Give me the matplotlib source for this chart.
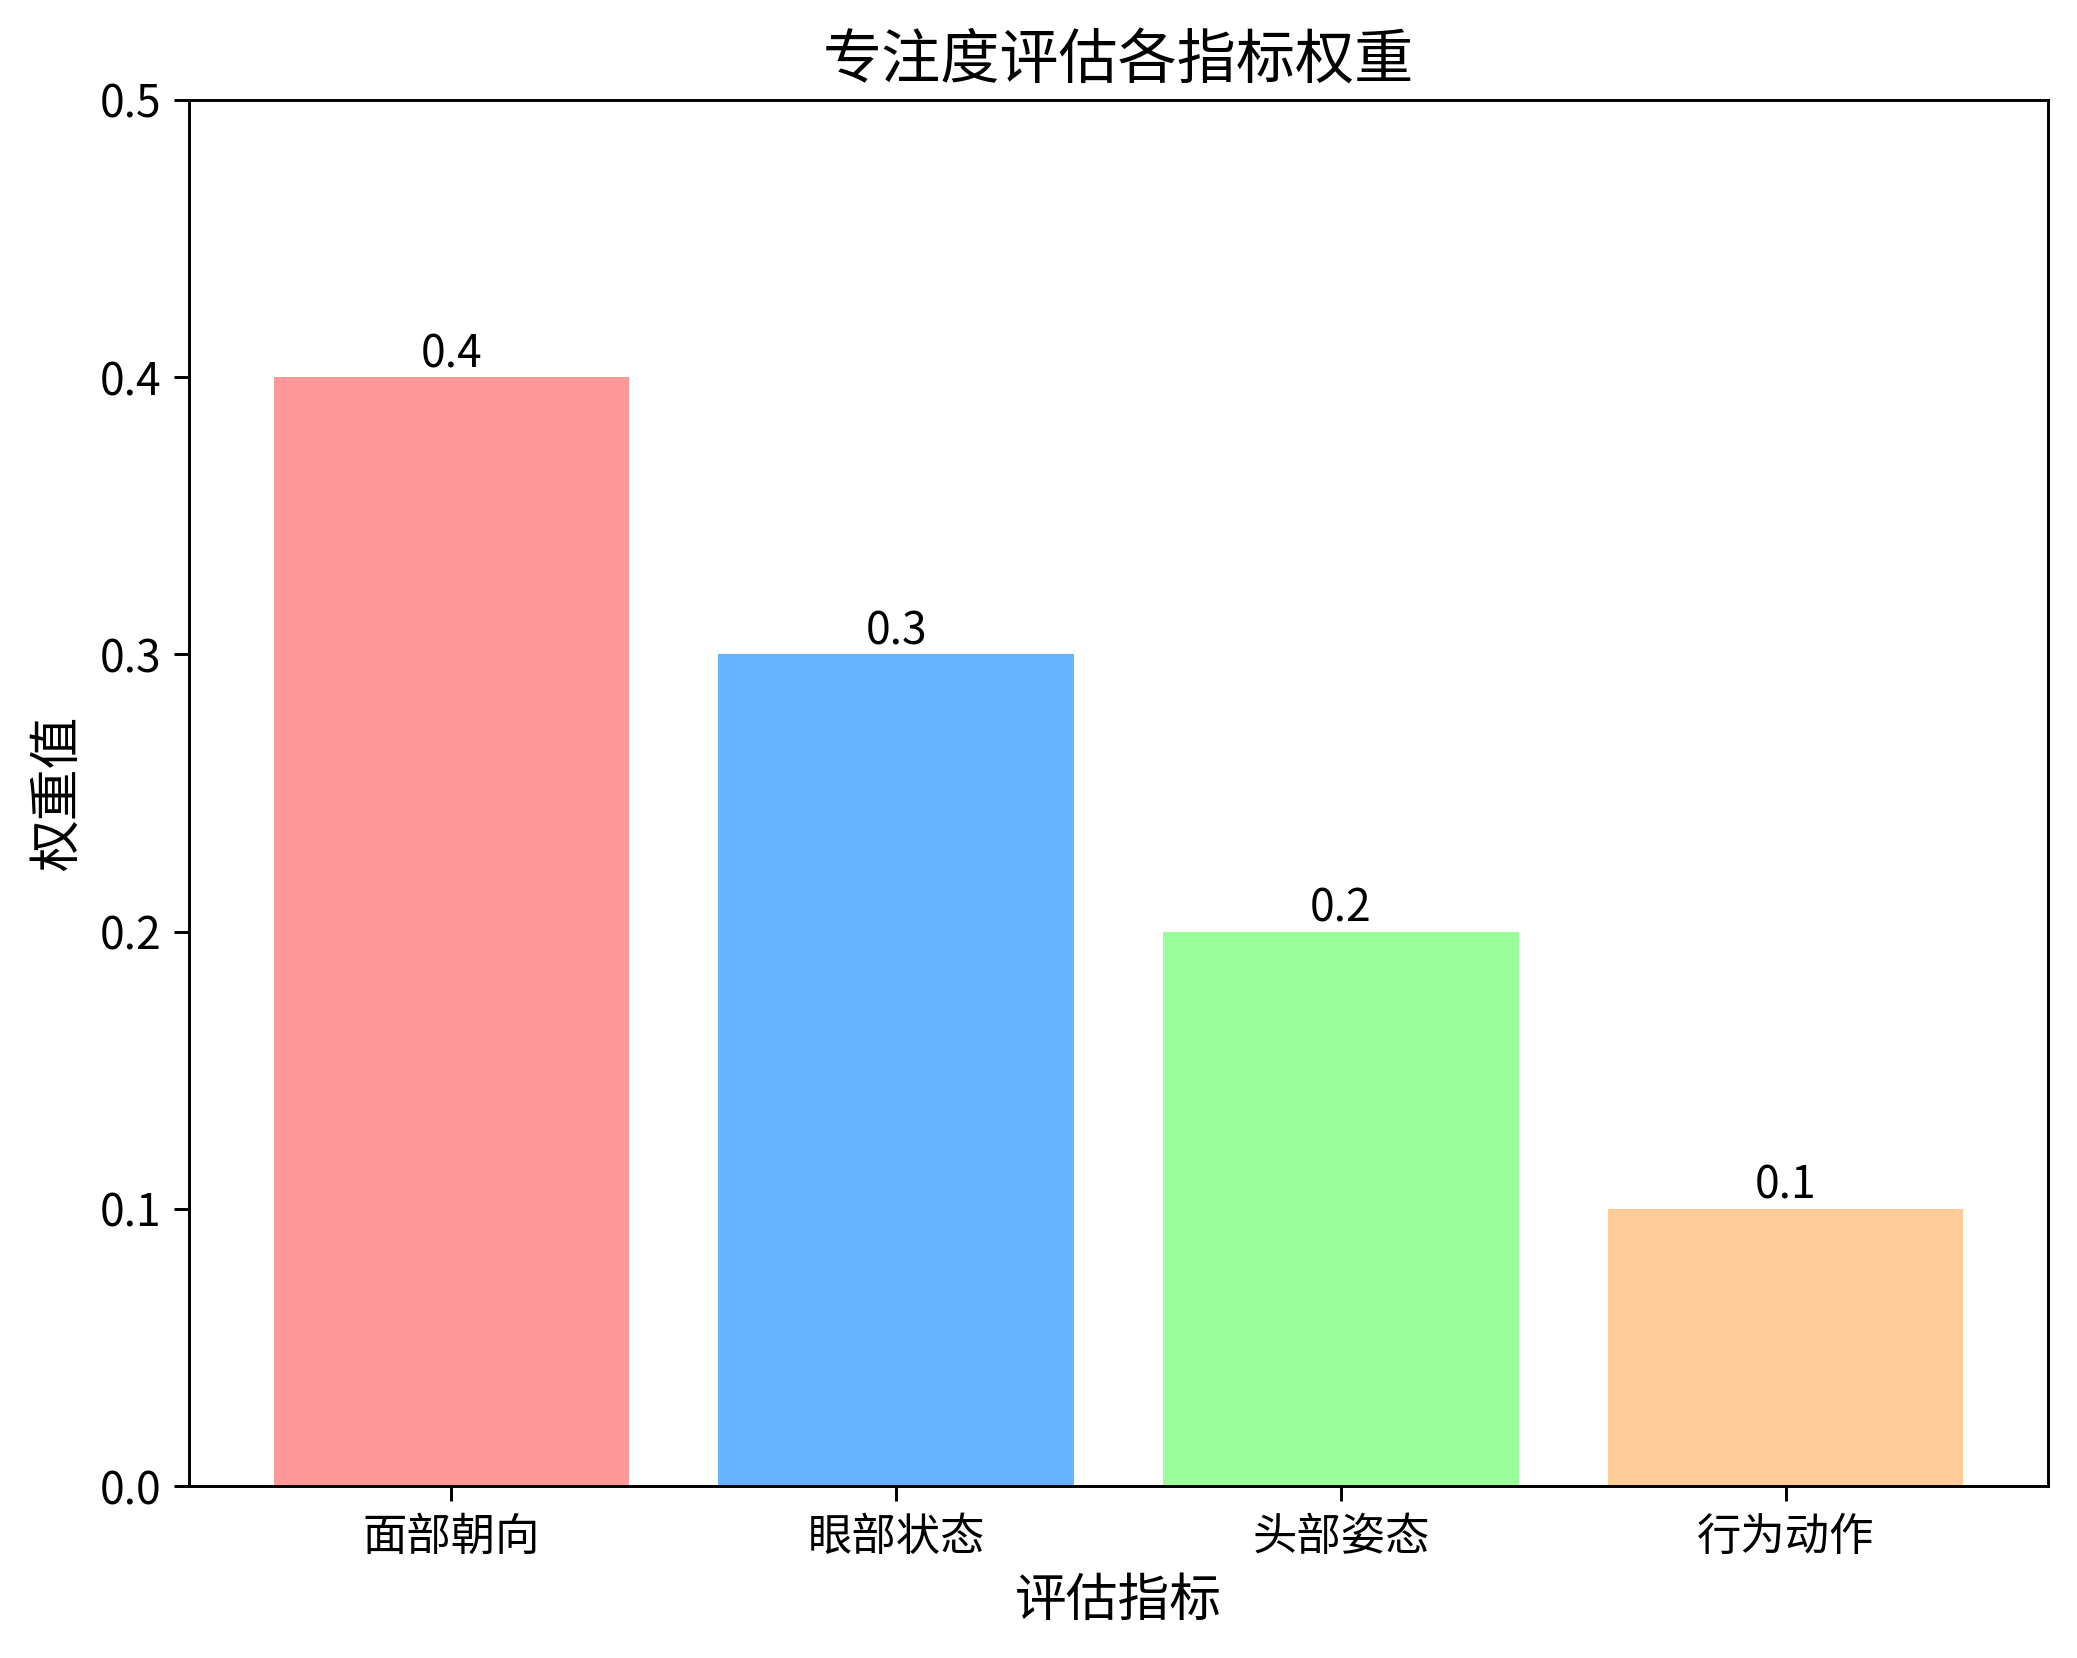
import matplotlib.pyplot as plt

plt.rcParams['font.family'] = ['Noto Sans CJK SC', 'DejaVu Sans']

categories = ['面部朝向', '眼部状态', '头部姿态', '行为动作']
weights = [0.4, 0.3, 0.2, 0.1]
colors = ['#ff9999', '#66b3ff', '#99ff99', '#ffcc99']

dpi = 266
fig, ax = plt.subplots(figsize=(2077 / dpi, 1658 / dpi), dpi=dpi)
fig.subplots_adjust(left=0.091, right=0.986, top=0.9397, bottom=0.1037)

bars = ax.bar(categories, weights, color=colors)
for b, w in zip(bars, weights):
    ax.text(b.get_x() + b.get_width() / 2, b.get_height(), f'{w}',
            ha='center', va='bottom', fontsize=12)

ax.set_ylim(0, 0.5)
ax.set_title('专注度评估各指标权重', fontsize=16)
ax.set_xlabel('评估指标', fontsize=14)
ax.set_ylabel('权重值', fontsize=14)
ax.tick_params(labelsize=12, length=4)

fig.savefig('out.png', dpi=dpi)
